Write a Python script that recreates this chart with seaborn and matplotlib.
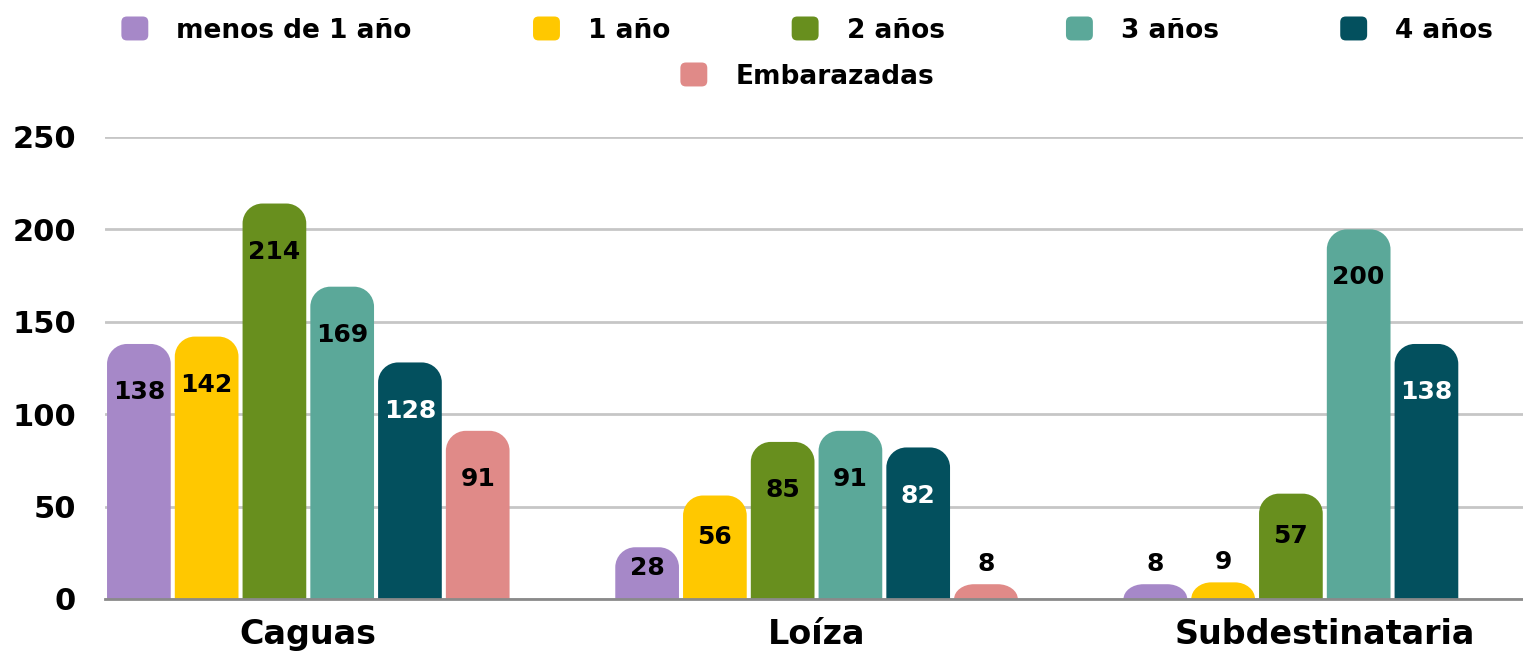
import numpy as np
import pandas as pd
import matplotlib
matplotlib.use("Agg")
import matplotlib.pyplot as plt
import seaborn as sns
from matplotlib.path import Path
from matplotlib.patches import PathPatch, Patch, FancyBboxPatch
from matplotlib.legend_handler import HandlerPatch

# ---- data ----
regions = ["Caguas", "Loíza", "Subdestinataria"]
groups = ["menos de 1 año", "1 año", "2 años", "3 años", "4 años", "Embarazadas"]
menos_1 = [138, 28, 8]
uno = [142, 56, 9]
dos = [214, 85, 57]
tres = [169, 91, 200]
cuatro = [128, 82, 138]
embarazadas = [91, 8, np.nan]
yticks = [0, 50, 100, 150, 200, 250]

colors = ["#A688C8", "#FFC800", "#688F1E", "#5BA899", "#03505E", "#E08A88"]
label_colors = ["black", "black", "black", "black", "white", "black"]

series = [menos_1, uno, dos, tres, cuatro, embarazadas]
df = pd.DataFrame([(r, g, s[i]) for g, s in zip(groups, series) for i, r in enumerate(regions)],
                  columns=["region", "grupo", "valor"])

sns.set_theme(style="white")
plt.rcParams['font.family'] = ['DejaVu Sans']
plt.rcParams['text.color'] = 'black'
plt.rcParams['xtick.color'] = 'black'
plt.rcParams['ytick.color'] = 'black'

W, H = 1523, 657
fig = plt.figure(figsize=(W / 100, H / 100), dpi=100)
ax_left, ax_right = 105 / W, 1.0
ax_bottom, ax_top = (H - 599) / H, (H - 137) / H
ax = fig.add_axes([ax_left, ax_bottom, ax_right - ax_left, ax_top - ax_bottom])

sns.barplot(data=df, x="region", y="valor", hue="grupo", hue_order=groups,
            palette=colors, width=0.8, gap=0.06, ax=ax, legend=False,
            saturation=1, errorbar=None)

ax.set_ylim(0, 250)
ax.set_xlim(-0.4, 2.39)

# pixel scales
bbox = ax.get_window_extent()
px_x = bbox.width / (ax.get_xlim()[1] - ax.get_xlim()[0])
px_y = bbox.height / 250.0
rad_px = 20
rx_d, ry_d = rad_px / px_x, rad_px / px_y
k = 0.5523


def rounded_path(x0, w, h):
    ry = min(ry_d, h)
    rx = min(rx_d, w / 2)
    verts = [(x0, 0), (x0, h - ry),
             (x0, h - ry + k * ry), (x0 + rx - k * rx, h), (x0 + rx, h),
             (x0 + w - rx, h),
             (x0 + w - rx + k * rx, h), (x0 + w, h - ry + k * ry), (x0 + w, h - ry),
             (x0 + w, 0), (x0, 0)]
    codes = [Path.MOVETO, Path.LINETO,
             Path.CURVE4, Path.CURVE4, Path.CURVE4,
             Path.LINETO,
             Path.CURVE4, Path.CURVE4, Path.CURVE4,
             Path.LINETO, Path.CLOSEPOLY]
    return Path(verts, codes)


for gi, cont in enumerate(ax.containers):
    for bar in cont:
        h = bar.get_height()
        x0, w = bar.get_x(), bar.get_width()
        bar.set_visible(False)
        if h is None or np.isnan(h) or h <= 0:
            continue
        pp = PathPatch(rounded_path(x0, w, h), facecolor=colors[gi], edgecolor="none", zorder=3)
        ax.add_patch(pp)
        if h < 15:
            ly = h + 11
        else:
            ly = max(h - 26, h * 0.6)
        ax.text(x0 + w / 2, ly, f"{int(h)}", ha="center", va="center",
                fontsize=18, fontweight="bold", color=label_colors[gi], zorder=4)

# grid & axes styling
ax.set_yticks(yticks)
ax.yaxis.grid(True, color="#C6C6C6", linewidth=2)
ax.set_axisbelow(True)
for s in ["top", "right", "left"]:
    ax.spines[s].set_visible(False)
ax.spines["bottom"].set_color("#8A8A8A")
ax.spines["bottom"].set_linewidth(2)
ax.spines["bottom"].set_zorder(5)
ax.tick_params(axis="both", length=0)
ax.tick_params(axis="y", pad=21, labelsize=22)
ax.tick_params(axis="x", pad=14, labelsize=24)
for lab in ax.get_yticklabels() + ax.get_xticklabels():
    lab.set_fontweight("bold")
    lab.set_color("black")
ax.set_xlabel("")
ax.set_ylabel("")


def make_handle(legend, orig_handle, xdescent, ydescent, width, height, fontsize):
    return FancyBboxPatch((-xdescent, -ydescent), width, height,
                          boxstyle="round,pad=0,rounding_size=4")


hmap = {Patch: HandlerPatch(patch_func=make_handle)}
handles = [Patch(facecolor=c, edgecolor="none", label=g) for c, g in zip(colors, groups)]
leg_kw = dict(frameon=False, handlelength=1.02, handleheight=1.02, handletextpad=1.06,
              columnspacing=4.6, prop={"weight": "bold", "size": 19},
              handler_map=hmap, borderaxespad=0, borderpad=0, labelcolor="black")
leg1 = fig.legend(handles=handles[:5], loc="center", ncol=5,
                  bbox_to_anchor=(0.53, (H - 30) / H), **leg_kw)
leg2 = fig.legend(handles=handles[5:], loc="center", ncol=1,
                  bbox_to_anchor=(0.53, (H - 76) / H), **leg_kw)

fig.savefig("out.png", dpi=100)
